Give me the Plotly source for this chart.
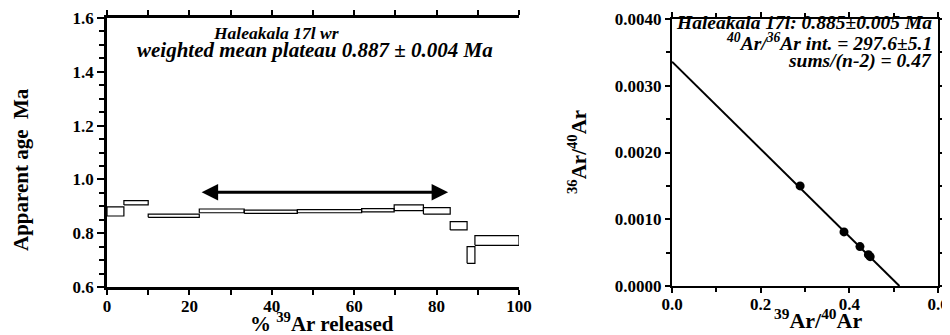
import plotly.graph_objects as go

# ---- Age spectrum data (left panel) ----
step_start = [0.0, 4.1, 10.0, 22.4, 33.3, 46.2, 61.8, 69.7, 76.8, 83.3, 87.4, 89.3]
step_end = [4.1, 10.0, 22.4, 33.3, 46.2, 61.8, 69.7, 76.8, 83.3, 87.4, 89.3, 100.0]
age_low = [0.864, 0.905, 0.859, 0.876, 0.874, 0.876, 0.879, 0.884, 0.871, 0.812, 0.688, 0.755]
age_high = [0.898, 0.921, 0.871, 0.890, 0.886, 0.888, 0.891, 0.905, 0.895, 0.843, 0.750, 0.791]
plateau_start = 22.6
plateau_end = 82.8
plateau_arrow_age = 0.952

# ---- Isochron data (right panel) ----
ar39_ar40 = [0.289, 0.388, 0.424, 0.443, 0.447]
ar36_ar40 = [0.00150, 0.00081, 0.00059, 0.00047, 0.00044]
iso_y_intercept = 1 / 297.6
iso_x_intercept = 0.513

left_xticks = [0, 20, 40, 60, 80, 100]
left_yticks = [0.6, 0.8, 1.0, 1.2, 1.4, 1.6]
right_xticks = [0.0, 0.2, 0.4, 0.6]
right_yticks = [0.0, 0.001, 0.002, 0.003, 0.004]

SERIF = "Liberation Serif"

# page body has an 8px default margin: work in window pixels, convert to figure fractions
OFF = 8
W, H = 950 - OFF, 335 - OFF


def fx(px):
    return (px - OFF) / W


def fy(py):
    return 1 - (py - OFF) / H


bx, by = [], []
for x0, x1, lo, hi in zip(step_start, step_end, age_low, age_high):
    bx += [x0, x1, x1, x0, x0, None]
    by += [lo, lo, hi, hi, lo, None]

fig = go.Figure()
fig.add_trace(go.Scatter(x=bx, y=by, mode="lines", line=dict(color="black", width=1.2),
                         xaxis="x", yaxis="y", showlegend=False, hoverinfo="skip"))
fig.add_trace(go.Scatter(x=[0, iso_x_intercept], y=[iso_y_intercept, 0], mode="lines",
                         line=dict(color="black", width=2), xaxis="x2", yaxis="y2",
                         showlegend=False))
fig.add_trace(go.Scatter(x=ar39_ar40, y=ar36_ar40, mode="markers",
                         marker=dict(color="black", size=9), xaxis="x2", yaxis="y2",
                         showlegend=False))

tickfont = dict(family=SERIF, size=17, color="black", weight="bold")
axis_common = dict(showgrid=False, zeroline=False, showline=True, linecolor="black",
                   ticks="outside", tickcolor="black", tickfont=tickfont, automargin=False)

fig.update_layout(
    width=W, height=H, margin=dict(l=0, r=0, t=0, b=0),
    paper_bgcolor="white", plot_bgcolor="white",
    xaxis=dict(axis_common, domain=[fx(107), fx(519)], range=[0, 100], tickvals=left_xticks,
               linewidth=2.5, tickwidth=2, ticklen=5, mirror="ticks", ticklabelstandoff=-3,
               minor=dict(dtick=10, tick0=0, ticks="outside", ticklen=5, tickwidth=2, tickcolor="black"),
               anchor="y"),
    yaxis=dict(axis_common, domain=[fy(287), fy(18)], range=[0.6, 1.6], tickvals=left_yticks,
               tickformat=".1f", linewidth=2.5, tickwidth=2, ticklen=7,
               minor=dict(dtick=0.05, tick0=0.6, ticks="outside", ticklen=5, tickwidth=2, tickcolor="black"),
               anchor="x"),
    xaxis2=dict(axis_common, domain=[fx(672), fx(938)], range=[0, 0.6], tickvals=right_xticks,
                tickformat=".1f", linewidth=2, tickwidth=2, ticklen=5, mirror="ticks", ticklabelstandoff=-3,
                minor=dict(dtick=0.1, tick0=0, ticks="outside", ticklen=4, tickwidth=1.5, tickcolor="black"),
                anchor="y2"),
    yaxis2=dict(axis_common, domain=[fy(286), fy(19)], range=[0, 0.004], tickvals=right_yticks,
                tickformat=".4f", linewidth=2, tickwidth=2, ticklen=5, mirror="ticks",
                minor=dict(dtick=0.0005, tick0=0, ticks="outside", ticklen=4, tickwidth=1.5, tickcolor="black"),
                anchor="x2"),
)

title_font = dict(family=SERIF, size=21, color="black", weight="bold")


def ann(size):
    return dict(family=SERIF, size=size, color="black", weight="bold", style="italic")


def note(x, y, text, font, xanchor="center", angle=0):
    return dict(x=fx(x), y=fy(y), xref="paper", yref="paper", text=text, showarrow=False,
                font=font, xanchor=xanchor, yanchor="middle", textangle=angle)


annotations = [
    # plateau arrow
    dict(x=plateau_end, y=plateau_arrow_age, ax=plateau_start, ay=plateau_arrow_age,
         xref="x", yref="y", axref="x", ayref="y", text="", showarrow=True,
         arrowside="end+start", arrowhead=2, arrowsize=1.1, arrowwidth=3, arrowcolor="black"),
    # axis titles
    note(21, 170, "Apparent age  Ma", title_font, angle=-90),
    note(322, 322, "% <sup>39</sup>Ar released", title_font),
    note(577, 152, "<sup>36</sup>Ar/<sup>40</sup>Ar", title_font, angle=-90),
    note(818, 319, "<sup>39</sup>Ar/<sup>40</sup>Ar", dict(title_font, size=22)),
    # left panel text
    note(276, 33, "Haleakala 17l wr", ann(17.5)),
    note(315, 50, "weighted mean plateau 0.887 ± 0.004 Ma", ann(21)),
    # right panel text
    note(934, 23, "Haleakala 17l: 0.885±0.005 Ma", ann(19.5), xanchor="right"),
    note(934, 42, "<sup>40</sup>Ar/<sup>36</sup>Ar int. = 297.6±5.1", ann(19.5), xanchor="right"),
    note(934, 61, "sums/(n-2) = 0.47", ann(19.5), xanchor="right"),
]
fig.update_layout(annotations=annotations)

fig.write_html("out.html")
